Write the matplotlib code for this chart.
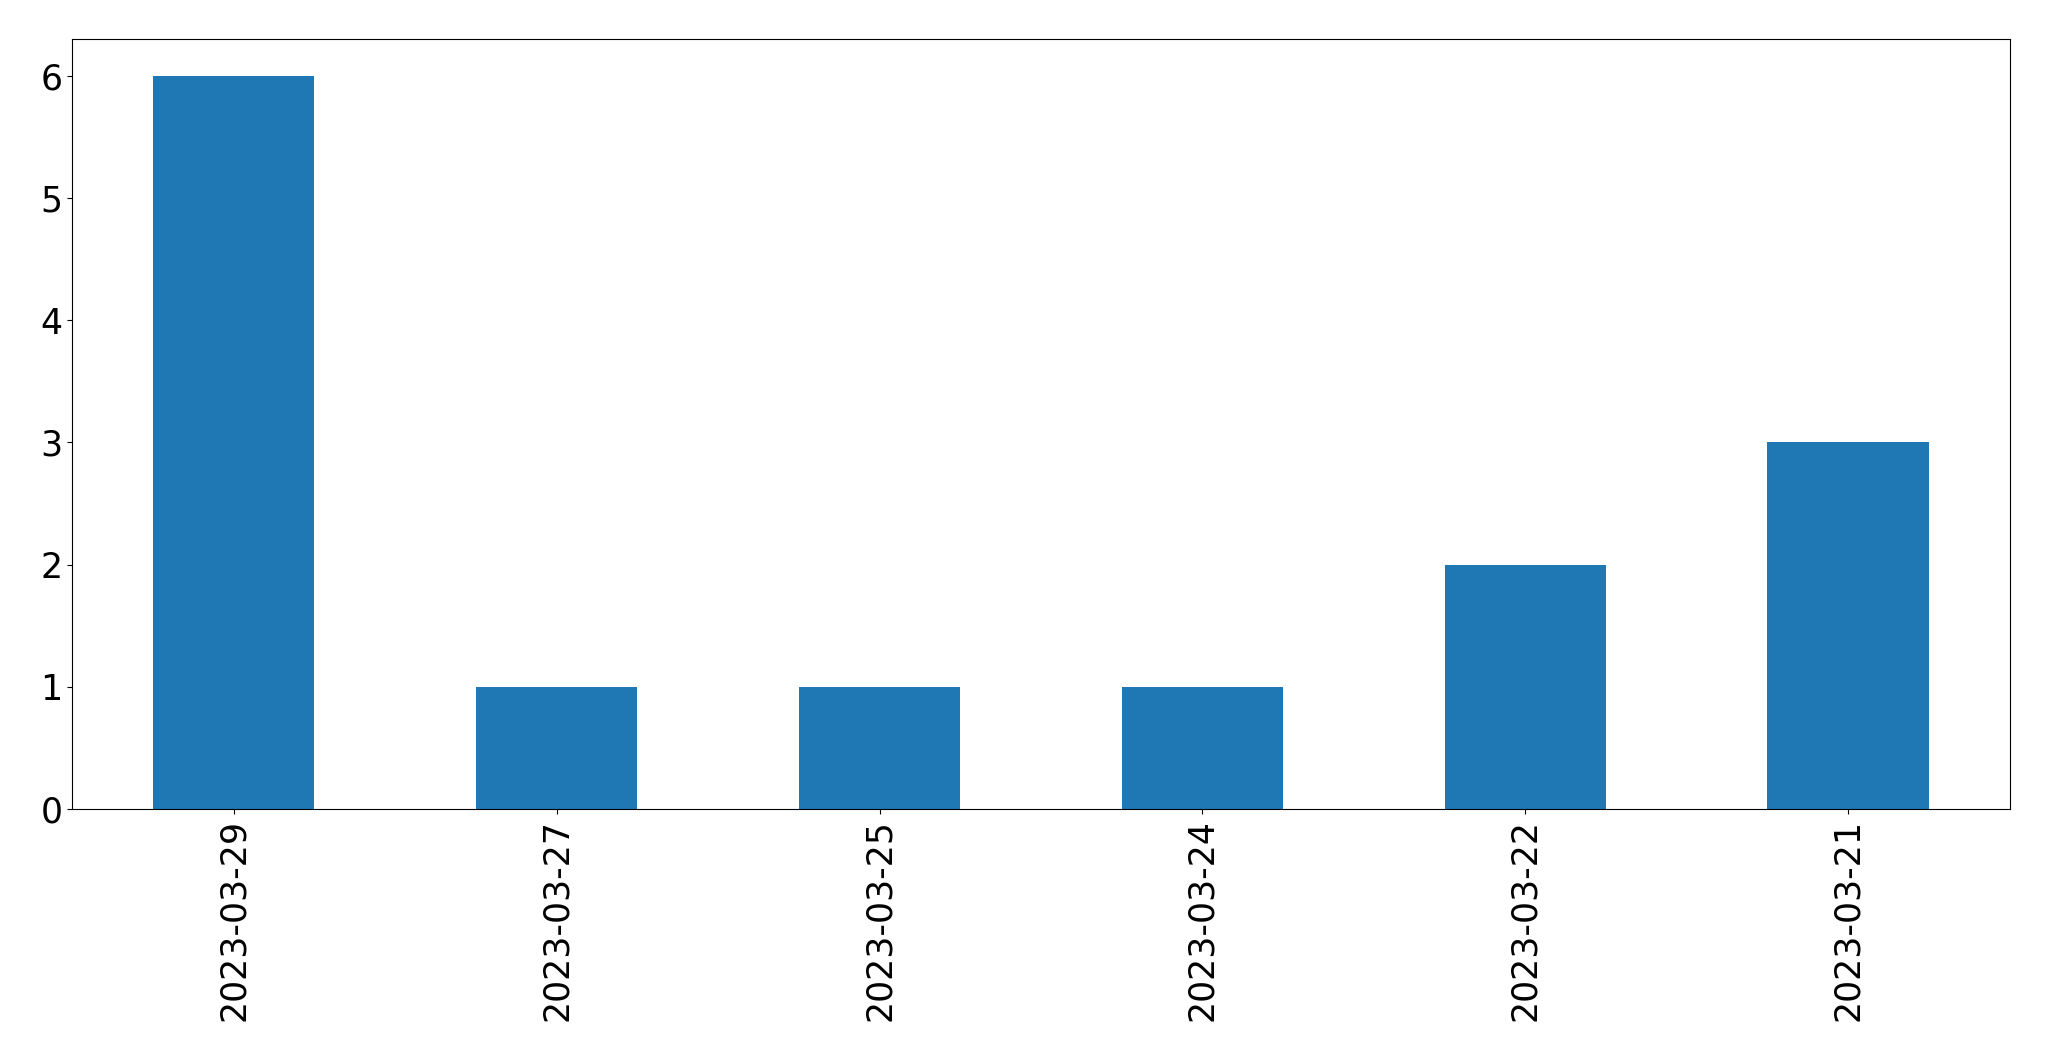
import matplotlib
matplotlib.use("Agg")
import matplotlib.pyplot as plt
import pandas as pd

# 日期與次數
dates = ['2023-03-29', '2023-03-27', '2023-03-25', '2023-03-24', '2023-03-22', '2023-03-21']
counts = [6, 1, 1, 1, 2, 3]

s = pd.Series(counts, index=dates)

fig = plt.figure(figsize=(20.49, 10.61), dpi=100)
ax = fig.add_axes([0.0353, 0.2375, 0.9455, 0.7255])

s.plot(kind='bar', ax=ax, color='#1f77b4', width=0.5)
ax.tick_params(axis='both', labelsize=25)
ax.set_xlim(-0.5, len(dates) - 0.5)

fig.savefig('out.png', dpi=100)
